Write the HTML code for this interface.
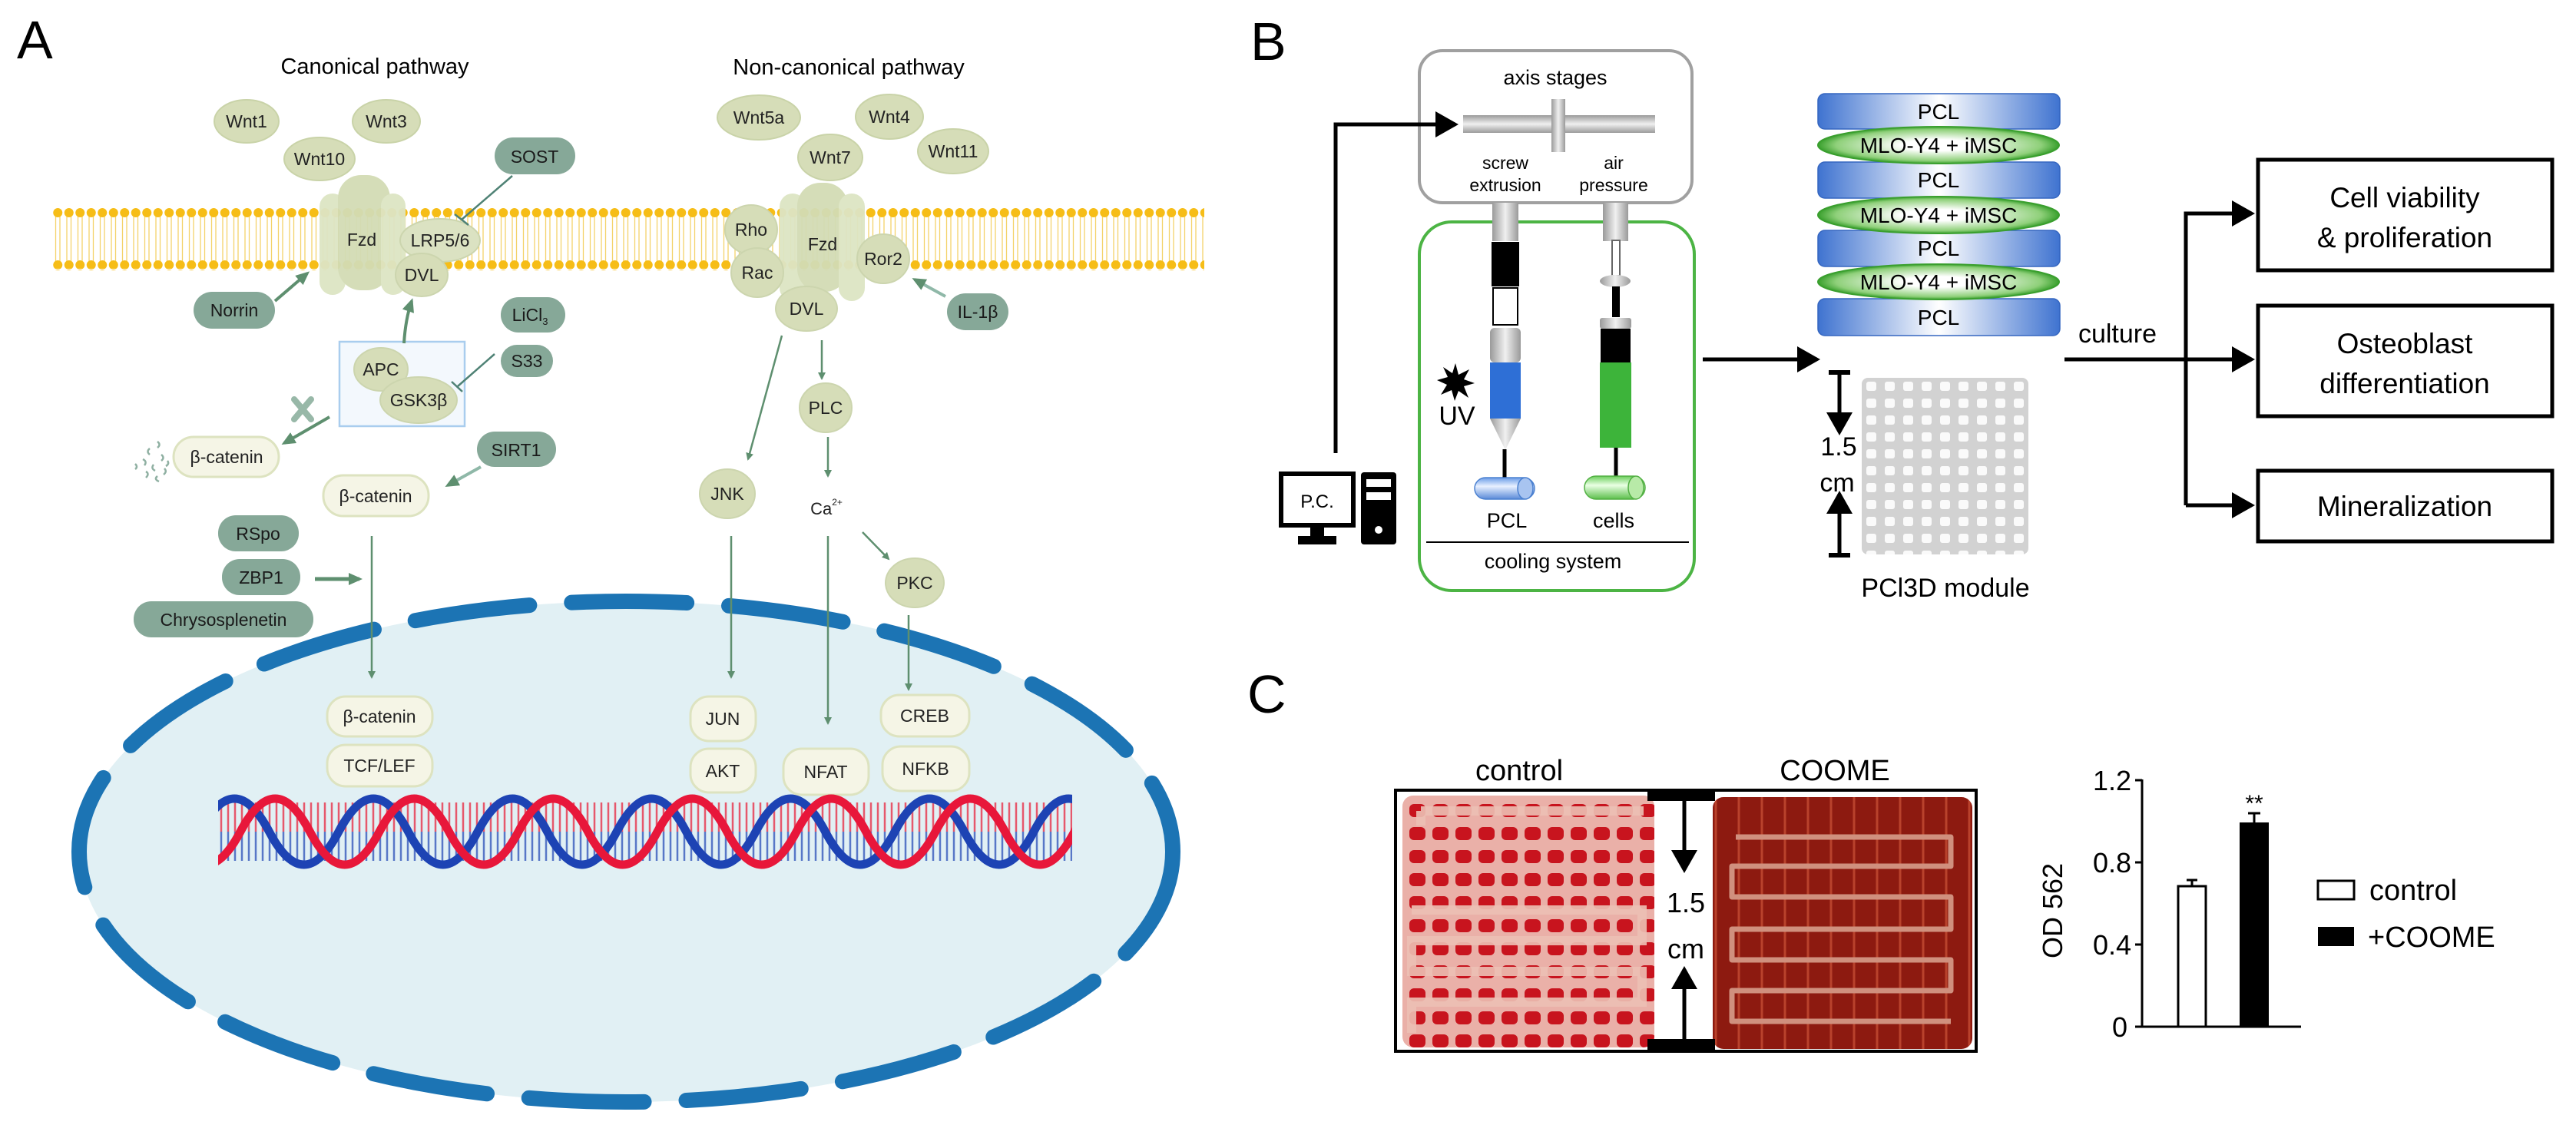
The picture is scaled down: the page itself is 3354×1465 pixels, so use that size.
<!DOCTYPE html>
<html><head><meta charset="utf-8"><style>
html,body{margin:0;padding:0;background:#fff}
svg{display:block}
text{font-family:"Liberation Sans",sans-serif}
</style></head><body>
<svg width="3354" height="1465" viewBox="0 0 3354 1465" xmlns="http://www.w3.org/2000/svg">
<defs>
<marker id="ga" markerWidth="10" markerHeight="10" refX="8" refY="5" orient="auto" markerUnits="userSpaceOnUse" viewBox="0 0 10 10"><path d="M0,0 L10,5 L0,10 z" fill="#5e8f6f"/></marker>
<marker id="gb" markerWidth="18" markerHeight="18" refX="14" refY="9" orient="auto" markerUnits="userSpaceOnUse" viewBox="0 0 18 18"><path d="M0,1 L18,9 L0,17 z" fill="#5e8f6f"/></marker>
<marker id="ka" markerWidth="30" markerHeight="34" refX="26" refY="17" orient="auto" markerUnits="userSpaceOnUse" viewBox="0 0 30 34"><path d="M0,0 L30,17 L0,34 z" fill="#000"/></marker>
<pattern id="mem" width="14.5" height="80" patternUnits="userSpaceOnUse" x="68" y="270">
<line x1="4.5" y1="7" x2="4.5" y2="73" stroke="#f3d36a" stroke-width="1.3"/>
<line x1="10" y1="7" x2="10" y2="73" stroke="#f3d36a" stroke-width="1.3"/>
<circle cx="7.25" cy="7" r="6" fill="#f6bd17"/>
<circle cx="7.25" cy="75" r="6" fill="#f6bd17"/>
</pattern>
<pattern id="bp" width="9" height="90" patternUnits="userSpaceOnUse" x="284" y="1038">
<line x1="4" y1="0" x2="4" y2="45" stroke="#e8263e" stroke-width="2.5"/>
<line x1="4" y1="45" x2="4" y2="90" stroke="#2a4fb8" stroke-width="2.5"/>
</pattern>
<clipPath id="dnaClip"><rect x="284" y="1030" width="1112" height="105"/></clipPath>
<linearGradient id="pclg" x1="0" x2="1" y1="0" y2="0"><stop offset="0" stop-color="#3f73d0"/><stop offset="0.5" stop-color="#ffffff"/><stop offset="1" stop-color="#3f73d0"/></linearGradient>
<radialGradient id="mlog" cx="0.5" cy="0.5" r="0.5"><stop offset="0.3" stop-color="#ffffff"/><stop offset="0.85" stop-color="#8fd07a"/><stop offset="1" stop-color="#3aa02e"/></radialGradient>
<linearGradient id="grayh" x1="0" x2="1"><stop offset="0" stop-color="#9a9a9a"/><stop offset="0.5" stop-color="#f0f0f0"/><stop offset="1" stop-color="#9a9a9a"/></linearGradient>
<linearGradient id="grayv" x1="0" x2="0" y1="0" y2="1"><stop offset="0" stop-color="#9a9a9a"/><stop offset="0.5" stop-color="#f0f0f0"/><stop offset="1" stop-color="#9a9a9a"/></linearGradient>
<linearGradient id="canb" x1="0" x2="0" y1="0" y2="1"><stop offset="0" stop-color="#6a9ce8"/><stop offset="0.4" stop-color="#e8f0ff"/><stop offset="1" stop-color="#5a8ad8"/></linearGradient>
<linearGradient id="cang" x1="0" x2="0" y1="0" y2="1"><stop offset="0" stop-color="#6ccf5c"/><stop offset="0.4" stop-color="#eaffe4"/><stop offset="1" stop-color="#5cbf4c"/></linearGradient>
<pattern id="scaf" width="24" height="22" patternUnits="userSpaceOnUse" x="2424" y="492">
<rect width="24" height="22" fill="#d2d2d2"/><rect x="6" y="5" width="13" height="12" rx="3" fill="#fafafa"/>
</pattern>
<pattern id="ctl" width="30" height="30" patternUnits="userSpaceOnUse" x="1830" y="1040">
<rect width="30" height="30" fill="#eab0a8"/><rect x="5" y="7" width="21" height="17" rx="6" fill="#c8141e"/>
</pattern>
<pattern id="coo" width="30" height="36" patternUnits="userSpaceOnUse" x="2232" y="1050">
<rect width="30" height="36" fill="#8d1a10"/><line x1="2" y1="0" x2="2" y2="36" stroke="#b9422c" stroke-width="3"/>
</pattern>
</defs>

<!-- ============ PANEL A ============ -->
<text x="22" y="76" font-size="70" font-family="Liberation Sans Narrow, Liberation Sans, sans-serif">A</text>
<text x="488" y="96" font-size="29" text-anchor="middle">Canonical pathway</text>
<text x="1105" y="97" font-size="29" text-anchor="middle">Non-canonical pathway</text>

<rect x="68" y="270" width="1500" height="82" fill="url(#mem)"/>

<g fill="#d6ddb8" stroke="#c9d3a8" stroke-width="2">
<ellipse cx="321" cy="158" rx="42" ry="28"/>
<ellipse cx="503" cy="158" rx="44" ry="28"/>
<ellipse cx="416" cy="207" rx="46" ry="28"/>
<ellipse cx="988" cy="153" rx="54" ry="29"/>
<ellipse cx="1158" cy="152" rx="44" ry="29"/>
<ellipse cx="1081" cy="205" rx="42" ry="30"/>
<ellipse cx="1241" cy="197" rx="46" ry="29"/>
</g>
<g font-size="23" text-anchor="middle" fill="#222">
<text x="321" y="166">Wnt1</text>
<text x="503" y="166">Wnt3</text>
<text x="416" y="215">Wnt10</text>
<text x="988" y="161">Wnt5a</text>
<text x="1158" y="160">Wnt4</text>
<text x="1081" y="213">Wnt7</text>
<text x="1241" y="205">Wnt11</text>
</g>

<g fill="#dde5c4" opacity="0.95">
<rect x="416" y="252" width="34" height="132" rx="17"/>
<rect x="440" y="228" width="68" height="150" rx="30" fill="#d3dcb5"/>
<rect x="496" y="252" width="32" height="132" rx="16"/>
</g>
<text x="471" y="320" font-size="23" text-anchor="middle" fill="#222">Fzd</text>
<ellipse cx="573" cy="313" rx="52" ry="28" fill="#dbe2c2" stroke="#ccd5ae" stroke-width="2"/>
<text x="573" y="321" font-size="23" text-anchor="middle" fill="#222">LRP5/6</text>
<ellipse cx="549" cy="358" rx="34" ry="28" fill="#d6ddb8" stroke="#ccd5ae" stroke-width="2"/>
<text x="549" y="366" font-size="23" text-anchor="middle" fill="#222">DVL</text>

<rect x="644" y="179" width="105" height="48" rx="24" fill="#86a898"/>
<text x="696" y="212" font-size="23" text-anchor="middle" fill="#1a1a1a">SOST</text>
<line x1="667" y1="229" x2="601" y2="286" stroke="#4f8275" stroke-width="2.5"/>
<line x1="592" y1="279" x2="610" y2="293" stroke="#4f8275" stroke-width="2.5"/>

<rect x="252" y="380" width="106" height="48" rx="24" fill="#86a898"/>
<text x="305" y="412" font-size="23" text-anchor="middle" fill="#1a1a1a">Norrin</text>
<line x1="358" y1="392" x2="400" y2="356" stroke="#5e8f6f" stroke-width="4" marker-end="url(#gb)"/>

<rect x="652" y="387" width="84" height="46" rx="23" fill="#86a898"/>
<text x="690" y="418" font-size="23" text-anchor="middle" fill="#1a1a1a">LiCl<tspan font-size="13" dy="5">3</tspan></text>
<rect x="652" y="449" width="68" height="42" rx="21" fill="#86a898"/>
<text x="686" y="478" font-size="23" text-anchor="middle" fill="#1a1a1a">S33</text>

<rect x="442" y="445" width="163" height="110" fill="#f3f8fd" stroke="#a9cdee" stroke-width="2.5"/>
<ellipse cx="496" cy="481" rx="35" ry="28" fill="#d6ddb8" stroke="#ccd5ae" stroke-width="2"/>
<text x="496" y="489" font-size="23" text-anchor="middle" fill="#222">APC</text>
<ellipse cx="545" cy="521" rx="50" ry="30" fill="#d6ddb8" stroke="#ccd5ae" stroke-width="2"/>
<text x="545" y="529" font-size="23" text-anchor="middle" fill="#222">GSK3β</text>
<path d="M526 447 Q528 415 536 392" fill="none" stroke="#5e8f6f" stroke-width="4" marker-end="url(#gb)"/>
<line x1="644" y1="461" x2="596" y2="503" stroke="#4f8275" stroke-width="2.5"/>
<line x1="588" y1="497" x2="602" y2="510" stroke="#4f8275" stroke-width="2.5"/>

<g stroke="#98b8a8" stroke-width="8" stroke-linecap="round"><line x1="383" y1="520" x2="405" y2="546"/><line x1="405" y1="520" x2="383" y2="546"/></g>
<line x1="429" y1="543" x2="370" y2="577" stroke="#5e8f6f" stroke-width="4" marker-end="url(#gb)"/>
<rect x="226" y="569" width="137" height="52" rx="26" fill="#f5f5e6" stroke="#dde3c0" stroke-width="3"/>
<text x="295" y="603" font-size="23" text-anchor="middle" fill="#222">β-catenin</text>
<g fill="none" stroke="#8fb0a2" stroke-width="2.5">
<path d="M205 575 q5 4 0 8"/><path d="M195 584 q-5 4 0 8"/><path d="M210 592 q5 4 0 8"/><path d="M186 598 q6 3 2 8"/><path d="M200 605 q-4 5 2 8"/><path d="M214 610 q4 4 -1 8"/><path d="M176 604 q4 4 0 7"/><path d="M190 614 q5 3 0 8"/><path d="M205 620 q-5 4 2 7"/><path d="M218 600 q3 4 -2 7"/>
</g>

<rect x="621" y="562" width="103" height="46" rx="23" fill="#86a898"/>
<text x="672" y="594" font-size="23" text-anchor="middle" fill="#1a1a1a">SIRT1</text>
<line x1="626" y1="608" x2="583" y2="632" stroke="#8fb8a8" stroke-width="4" marker-end="url(#gb)"/>
<rect x="421" y="619" width="137" height="53" rx="26" fill="#f5f5e6" stroke="#dde3c0" stroke-width="3"/>
<text x="489" y="654" font-size="23" text-anchor="middle" fill="#222">β-catenin</text>

<rect x="284" y="671" width="105" height="47" rx="23" fill="#86a898"/>
<text x="336" y="703" font-size="23" text-anchor="middle" fill="#1a1a1a">RSpo</text>
<rect x="289" y="728" width="102" height="47" rx="23" fill="#86a898"/>
<text x="340" y="760" font-size="23" text-anchor="middle" fill="#1a1a1a">ZBP1</text>
<rect x="174" y="783" width="234" height="47" rx="23" fill="#86a898"/>
<text x="291" y="815" font-size="23" text-anchor="middle" fill="#1a1a1a">Chrysosplenetin</text>
<line x1="410" y1="754" x2="468" y2="754" stroke="#5e8f6f" stroke-width="5" marker-end="url(#gb)"/>

<ellipse cx="815" cy="1109" rx="712" ry="326" fill="#e1f0f4"/>
<ellipse cx="815" cy="1109" rx="712" ry="326" fill="none" stroke="#1c74b4" stroke-width="20" stroke-linecap="round" stroke-dasharray="150 55"/>

<line x1="484" y1="698" x2="484" y2="882" stroke="#5e8f6f" stroke-width="2.5" marker-end="url(#ga)"/>
<line x1="952" y1="698" x2="952" y2="882" stroke="#5e8f6f" stroke-width="2.5" marker-end="url(#ga)"/>
<line x1="1078" y1="698" x2="1078" y2="942" stroke="#5e8f6f" stroke-width="2.5" marker-end="url(#ga)"/>
<line x1="1183" y1="801" x2="1183" y2="898" stroke="#5e8f6f" stroke-width="2.5" marker-end="url(#ga)"/>

<g fill="#dde5c4" opacity="0.95">
<rect x="1015" y="252" width="34" height="140" rx="17"/>
<rect x="1038" y="238" width="66" height="142" rx="30" fill="#d3dcb5"/>
<rect x="1092" y="252" width="34" height="140" rx="17"/>
</g>
<text x="1071" y="326" font-size="23" text-anchor="middle" fill="#222">Fzd</text>
<ellipse cx="978" cy="299" rx="34" ry="32" fill="#d6ddb8" stroke="#ccd5ae" stroke-width="2"/>
<text x="978" y="307" font-size="23" text-anchor="middle" fill="#222">Rho</text>
<ellipse cx="986" cy="355" rx="34" ry="32" fill="#d6ddb8" stroke="#ccd5ae" stroke-width="2"/>
<text x="986" y="363" font-size="23" text-anchor="middle" fill="#222">Rac</text>
<ellipse cx="1150" cy="337" rx="34" ry="32" fill="#d6ddb8" stroke="#ccd5ae" stroke-width="2"/>
<text x="1150" y="345" font-size="23" text-anchor="middle" fill="#222">Ror2</text>
<ellipse cx="1050" cy="402" rx="40" ry="29" fill="#d6ddb8" stroke="#ccd5ae" stroke-width="2"/>
<text x="1050" y="410" font-size="23" text-anchor="middle" fill="#222">DVL</text>
<rect x="1233" y="382" width="80" height="48" rx="24" fill="#86a898"/>
<text x="1273" y="414" font-size="23" text-anchor="middle" fill="#1a1a1a">IL-1β</text>
<line x1="1231" y1="386" x2="1191" y2="364" stroke="#8fb8a8" stroke-width="4" marker-end="url(#gb)"/>

<line x1="1018" y1="437" x2="974" y2="598" stroke="#5e8f6f" stroke-width="2.5" marker-end="url(#ga)"/>
<line x1="1070" y1="443" x2="1070" y2="493" stroke="#5e8f6f" stroke-width="2.5" marker-end="url(#ga)"/>
<ellipse cx="947" cy="643" rx="36" ry="32" fill="#d6ddb8" stroke="#ccd5ae" stroke-width="2"/>
<text x="947" y="651" font-size="23" text-anchor="middle" fill="#222">JNK</text>
<ellipse cx="1075" cy="531" rx="34" ry="32" fill="#d6ddb8" stroke="#ccd5ae" stroke-width="2"/>
<text x="1075" y="539" font-size="23" text-anchor="middle" fill="#222">PLC</text>
<line x1="1078" y1="569" x2="1078" y2="620" stroke="#5e8f6f" stroke-width="2.5" marker-end="url(#ga)"/>
<text x="1076" y="670" font-size="22" text-anchor="middle" fill="#222">Ca<tspan font-size="12" dy="-12">2+</tspan></text>
<line x1="1123" y1="693" x2="1157" y2="728" stroke="#5e8f6f" stroke-width="2.5" marker-end="url(#ga)"/>
<ellipse cx="1191" cy="759" rx="38" ry="32" fill="#d6ddb8" stroke="#ccd5ae" stroke-width="2"/>
<text x="1191" y="767" font-size="23" text-anchor="middle" fill="#222">PKC</text>

<g fill="#f5f5e6" stroke="#dde3c0" stroke-width="3">
<rect x="426" y="907" width="137" height="52" rx="24"/>
<rect x="426" y="970" width="137" height="54" rx="24"/>
<rect x="899" y="907" width="85" height="58" rx="24"/>
<rect x="899" y="975" width="85" height="57" rx="24"/>
<rect x="1020" y="975" width="111" height="60" rx="24"/>
<rect x="1147" y="905" width="115" height="54" rx="24"/>
<rect x="1149" y="972" width="113" height="58" rx="24"/>
</g>
<g font-size="23" text-anchor="middle" fill="#222">
<text x="494" y="941">β-catenin</text>
<text x="494" y="1005">TCF/LEF</text>
<text x="941" y="944">JUN</text>
<text x="941" y="1012">AKT</text>
<text x="1075" y="1013">NFAT</text>
<text x="1204" y="940">CREB</text>
<text x="1205" y="1009">NFKB</text>
</g>

<g clip-path="url(#dnaClip)">
<rect x="284" y="1045" width="1112" height="76" fill="url(#bp)" opacity="0.75"/>
<path d="M260 1083 q45.25 -86 90.5 0 t90.5 0 t90.5 0 t90.5 0 t90.5 0 t90.5 0 t90.5 0 t90.5 0 t90.5 0 t90.5 0 t90.5 0 t90.5 0 t90.5 0 t90.5 0 t90.5 0" fill="none" stroke="#1d43b4" stroke-width="11"/>
<path d="M132 1083 q45.25 -86 90.5 0 t90.5 0 t90.5 0 t90.5 0 t90.5 0 t90.5 0 t90.5 0 t90.5 0 t90.5 0 t90.5 0 t90.5 0 t90.5 0 t90.5 0 t90.5 0 t90.5 0 t90.5 0 t90.5 0" fill="none" stroke="#e8173a" stroke-width="11"/>
</g>

<!-- ============ PANEL B ============ -->
<text x="1628" y="78" font-size="70">B</text>
<rect x="1848" y="66" width="355" height="198" rx="30" fill="#fff" stroke="#a0a0a0" stroke-width="4"/>
<text x="2025" y="110" font-size="27" text-anchor="middle">axis stages</text>
<rect x="1905" y="150" width="250" height="23" fill="url(#grayv)"/>
<rect x="2020" y="129" width="18" height="69" fill="url(#grayh)"/>
<g font-size="23" text-anchor="middle"><text x="1960" y="220">screw</text><text x="1960" y="249">extrusion</text><text x="2101" y="220">air</text><text x="2101" y="249">pressure</text></g>
<polyline points="1739,590 1739,162 1895,162" fill="none" stroke="#000" stroke-width="5" marker-end="url(#ka)"/>

<rect x="1668" y="617" width="94" height="67" fill="#fff" stroke="#000" stroke-width="6"/>
<text x="1715" y="661" font-size="24" text-anchor="middle">P.C.</text>
<rect x="1706" y="684" width="18" height="16" fill="#000"/>
<rect x="1690" y="698" width="50" height="11" fill="#000"/>
<rect x="1772" y="615" width="46" height="94" rx="4" fill="#000"/>
<rect x="1779" y="624" width="32" height="10" fill="#fff"/>
<rect x="1779" y="641" width="32" height="10" fill="#fff"/>
<circle cx="1795" cy="690" r="5" fill="#fff"/>

<rect x="1848" y="289" width="358" height="480" rx="42" fill="none" stroke="#4cb444" stroke-width="4"/>
<rect x="1943" y="264" width="34" height="50" fill="url(#grayh)"/>
<rect x="1942" y="315" width="36" height="58" fill="#000"/>
<rect x="1944" y="375" width="32" height="48" fill="#fff" stroke="#000" stroke-width="2"/>
<rect x="1940" y="427" width="40" height="45" rx="6" fill="url(#grayh)"/>
<rect x="1940" y="472" width="40" height="73" fill="#2e6fd6"/>
<path d="M1940 545 L1980 545 L1960 586 Z" fill="url(#grayh)"/>
<line x1="1959" y1="585" x2="1959" y2="624" stroke="#000" stroke-width="5"/>
<rect x="1920" y="622" width="78" height="28" rx="14" fill="url(#canb)" stroke="#4a80d0" stroke-width="1.5"/>
<ellipse cx="1986" cy="636" rx="10" ry="14" fill="#a8c4f0" stroke="#4a80d0" stroke-width="1.5"/>
<rect x="2087" y="264" width="33" height="50" fill="url(#grayh)"/>
<rect x="2099" y="313" width="10" height="46" fill="#fff" stroke="#666" stroke-width="2"/>
<ellipse cx="2103" cy="366" rx="20" ry="8" fill="url(#grayh)"/>
<rect x="2099" y="373" width="10" height="40" fill="#000"/>
<rect x="2083" y="414" width="41" height="14" rx="3" fill="url(#grayh)"/>
<rect x="2084" y="428" width="39" height="44" fill="#000"/>
<rect x="2083" y="472" width="41" height="111" fill="#3db43a"/>
<line x1="2104" y1="583" x2="2104" y2="622" stroke="#000" stroke-width="5"/>
<rect x="2063" y="620" width="79" height="30" rx="15" fill="url(#cang)" stroke="#52b043" stroke-width="1.5"/>
<ellipse cx="2130" cy="635" rx="10" ry="15" fill="#b8eaa8" stroke="#52b043" stroke-width="1.5"/>
<path d="M1895 473 L1899 488 L1913 481 L1906 494 L1920 499 L1906 503 L1912 518 L1899 509 L1894 522 L1890 508 L1876 514 L1884 501 L1871 495 L1885 491 L1879 478 L1891 486 Z" fill="#000"/>
<text x="1897" y="553" font-size="34" text-anchor="middle">UV</text>
<text x="1962" y="687" font-size="27" text-anchor="middle">PCL</text>
<text x="2101" y="687" font-size="27" text-anchor="middle">cells</text>
<line x1="1857" y1="706" x2="2199" y2="706" stroke="#000" stroke-width="2"/>
<text x="2022" y="740" font-size="27" text-anchor="middle">cooling system</text>

<line x1="2217" y1="468" x2="2366" y2="468" stroke="#000" stroke-width="5" marker-end="url(#ka)"/>

<g stroke="#3566c0" stroke-width="1.5">
<rect x="2367" y="122" width="315" height="46" rx="9" fill="url(#pclg)"/>
<rect x="2367" y="211" width="315" height="47" rx="9" fill="url(#pclg)"/>
<rect x="2367" y="300" width="315" height="47" rx="9" fill="url(#pclg)"/>
<rect x="2367" y="389" width="315" height="48" rx="9" fill="url(#pclg)"/>
</g>
<g stroke="#3a9f2e" stroke-width="2">
<ellipse cx="2524" cy="189" rx="157" ry="24" fill="url(#mlog)"/>
<ellipse cx="2524" cy="280" rx="157" ry="24" fill="url(#mlog)"/>
<ellipse cx="2524" cy="367" rx="157" ry="23" fill="url(#mlog)"/>
</g>
<g font-size="28" text-anchor="middle" fill="#000">
<text x="2524" y="155">PCL</text><text x="2524" y="199">MLO-Y4 + iMSC</text>
<text x="2524" y="244">PCL</text><text x="2524" y="290">MLO-Y4 + iMSC</text>
<text x="2524" y="333">PCL</text><text x="2524" y="377">MLO-Y4 + iMSC</text>
<text x="2524" y="423">PCL</text>
</g>

<rect x="2424" y="492" width="217" height="230" rx="8" fill="url(#scaf)"/>
<line x1="2381" y1="485" x2="2409" y2="485" stroke="#000" stroke-width="6"/>
<line x1="2381" y1="723" x2="2409" y2="723" stroke="#000" stroke-width="6"/>
<line x1="2395" y1="485" x2="2395" y2="563" stroke="#000" stroke-width="5" marker-end="url(#ka)"/>
<line x1="2395" y1="723" x2="2395" y2="643" stroke="#000" stroke-width="5" marker-end="url(#ka)"/>
<text x="2394" y="593" font-size="34" text-anchor="middle">1.5</text>
<text x="2392" y="640" font-size="34" text-anchor="middle">cm</text>
<text x="2533" y="777" font-size="34" text-anchor="middle">PCl3D module</text>

<text x="2757" y="446" font-size="34" text-anchor="middle">culture</text>
<line x1="2688" y1="468" x2="2932" y2="468" stroke="#000" stroke-width="5" marker-end="url(#ka)"/>
<polyline points="2846,658 2846,278 2932,278" fill="none" stroke="#000" stroke-width="5" marker-end="url(#ka)"/>
<line x1="2846" y1="658" x2="2932" y2="658" stroke="#000" stroke-width="5" marker-end="url(#ka)"/>
<g fill="#fff" stroke="#000" stroke-width="5">
<rect x="2940" y="208" width="383" height="144"/>
<rect x="2940" y="398" width="383" height="144"/>
<rect x="2940" y="613" width="383" height="92"/>
</g>
<g font-size="37" text-anchor="middle">
<text x="3131" y="270">Cell viability</text><text x="3131" y="322">&amp; proliferation</text>
<text x="3131" y="460">Osteoblast</text><text x="3131" y="512">differentiation</text>
<text x="3131" y="672">Mineralization</text>
</g>

<!-- ============ PANEL C ============ -->
<text x="1624" y="928" font-size="70">C</text>
<text x="1978" y="1016" font-size="38" text-anchor="middle">control</text>
<text x="2389" y="1016" font-size="38" text-anchor="middle">COOME</text>
<rect x="1817" y="1029" width="756" height="340" fill="#fff" stroke="#000" stroke-width="4"/>
<rect x="1826" y="1036" width="328" height="328" rx="14" fill="url(#ctl)"/>
<g fill="none" stroke="#ecc0b4" stroke-width="12" opacity="0.9">
<path d="M2140 1056 L1850 1056 M1850 1056 V1075"/>
<path d="M1838 1185 H2138 V1225 H1838 V1265 H2138 V1305 H1838 V1345"/>
</g>
<rect x="2230" y="1038" width="338" height="328" rx="14" fill="url(#coo)"/>
<path d="M2260 1090 H2540 V1128 H2255 V1168 H2540 V1210 H2255 V1250 H2540 V1290 H2255 V1330 H2540" fill="none" stroke="#d0907e" stroke-width="7" stroke-linejoin="round"/>
<rect x="2145" y="1029" width="88" height="14" fill="#000"/>
<rect x="2145" y="1353" width="88" height="14" fill="#000"/>
<line x1="2193" y1="1043" x2="2193" y2="1133" stroke="#000" stroke-width="5" marker-end="url(#ka)"/>
<line x1="2193" y1="1353" x2="2193" y2="1262" stroke="#000" stroke-width="5" marker-end="url(#ka)"/>
<text x="2195" y="1188" font-size="36" text-anchor="middle">1.5</text>
<text x="2195" y="1248" font-size="36" text-anchor="middle">cm</text>

<line x1="2789" y1="1015" x2="2789" y2="1337" stroke="#000" stroke-width="3"/>
<line x1="2789" y1="1337" x2="2996" y2="1337" stroke="#000" stroke-width="3"/>
<g stroke="#000" stroke-width="3">
<line x1="2780" y1="1016" x2="2789" y2="1016"/><line x1="2780" y1="1123" x2="2789" y2="1123"/><line x1="2780" y1="1230" x2="2789" y2="1230"/><line x1="2780" y1="1337" x2="2789" y2="1337"/>
</g>
<g font-size="36" text-anchor="end">
<text x="2775" y="1029">1.2</text><text x="2775" y="1136">0.8</text><text x="2775" y="1243">0.4</text><text x="2770" y="1350">0</text>
</g>
<text transform="translate(2685,1186) rotate(-90)" font-size="36" text-anchor="middle">OD 562</text>
<rect x="2836" y="1154" width="36" height="183" fill="#fff" stroke="#000" stroke-width="3"/>
<line x1="2854" y1="1154" x2="2854" y2="1146" stroke="#000" stroke-width="3"/><line x1="2847" y1="1146" x2="2861" y2="1146" stroke="#000" stroke-width="3"/>
<rect x="2916" y="1071" width="38" height="266" fill="#000"/>
<line x1="2935" y1="1071" x2="2935" y2="1059" stroke="#000" stroke-width="3"/><line x1="2927" y1="1059" x2="2943" y2="1059" stroke="#000" stroke-width="3"/>
<text x="2935" y="1056" font-size="30" text-anchor="middle">**</text>
<rect x="3018" y="1147" width="47" height="24" fill="#fff" stroke="#000" stroke-width="3"/>
<text x="3085" y="1172" font-size="38">control</text>
<rect x="3018" y="1207" width="47" height="25" fill="#000"/>
<text x="3083" y="1233" font-size="38">+COOME</text>
</svg>
</body></html>
